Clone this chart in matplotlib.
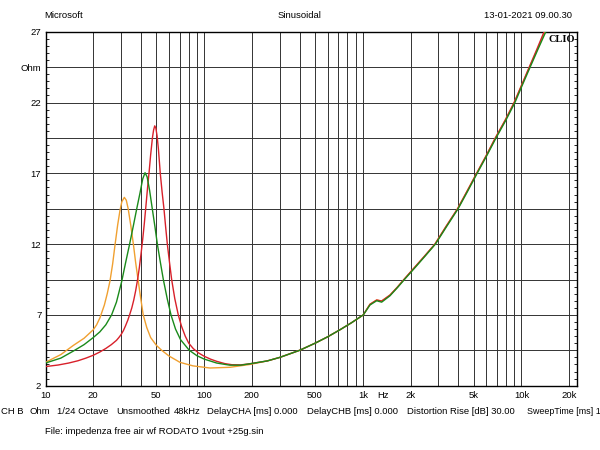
import matplotlib
matplotlib.use('Agg')
import matplotlib.pyplot as plt
from matplotlib.ticker import FixedLocator, FixedFormatter, NullFormatter

plt.rcParams['font.family'] = ['Liberation Sans', 'DejaVu Sans']
plt.rcParams['font.size'] = 6.8

# impedance curves (Hz, Ohm)
red_f = [10, 12, 14, 16, 18, 20, 22, 24, 26, 28, 29, 30, 31, 32, 33, 34, 35, 36, 37, 38, 39,
         40, 41, 42, 43, 44, 45, 46, 47.2, 48, 48.8, 49.6, 50.5, 51.5, 52.9, 54.3, 55.8,
         57.2, 58.6, 60.5, 62.4, 65.3, 68.7, 72, 76, 80, 85.4, 92, 100, 110, 120, 135, 150,
         170, 194.5, 250, 300, 400, 500, 600, 718, 850, 1007, 1110, 1223, 1315, 1484, 1650,
         1817, 2100, 2450, 2850, 3350, 3960, 4550, 5220, 6000, 6850, 7900, 9000, 10050,
         11200, 12500, 13900]
red_z = [3.35, 3.46, 3.6, 3.76, 3.95, 4.15, 4.38, 4.63, 4.9, 5.2, 5.4, 5.62, 5.9, 6.25,
         6.62, 7.05, 7.5, 8.05, 8.7, 9.45, 10.3, 11.3, 12.35, 13.5, 14.75, 16.0, 17.1, 18.3,
         19.5, 20.05, 20.35, 20.2, 19.65, 18.7, 17.0, 15.7, 14.5, 13.2, 12.0, 10.7, 9.5,
         8.15, 7.0, 6.2, 5.5, 5.0, 4.62, 4.32, 4.08, 3.87, 3.72, 3.56, 3.48, 3.47, 3.55,
         3.75, 4.0, 4.5, 5.0, 5.45, 5.95, 6.45, 7.0, 7.75, 8.05, 7.98, 8.4, 8.95, 9.5, 10.3,
         11.15, 12.0, 13.25, 14.5, 15.75, 17.0, 18.25, 19.5, 20.75, 22.0, 23.25, 24.5,
         25.75, 27.0]

green_f = [10, 12.5, 15, 17.5, 20, 22, 24, 26.1, 28, 30.2, 32, 33.9, 35.8, 37.6, 39.4, 41,
           42.4, 43.7, 45.3, 47.1, 49, 50.7, 53, 55.3, 58.5, 61.8, 66, 71, 80.6, 90, 100,
           120, 145, 170, 194.5, 250, 300, 400, 500, 600, 718, 850, 1007, 1110, 1223, 1315,
           1484, 1660, 1830, 2120, 2470, 2870, 3380, 3990, 4590, 5260, 6050, 6920, 7980,
           9100, 10150, 11350, 12700, 14250]
green_z = [3.6, 3.95, 4.45, 4.9, 5.4, 5.8, 6.3, 7.0, 7.9, 9.35, 10.7, 12.0, 13.3, 14.5,
           15.6, 16.6, 17.04, 16.75, 15.8, 14.5, 13.2, 12.0, 10.7, 9.5, 8.15, 7.0, 6.0, 5.25,
           4.5, 4.12, 3.88, 3.6, 3.45, 3.45, 3.55, 3.75, 4.0, 4.5, 5.0, 5.45, 5.95, 6.45,
           7.0, 7.7, 8.0, 7.9, 8.35, 8.95, 9.5, 10.3, 11.15, 12.0, 13.25, 14.5, 15.75, 17.0,
           18.25, 19.5, 20.75, 22.0, 23.25, 24.5, 25.75, 27.0]

orange_f = [10, 12.5, 15, 17.5, 20, 21, 22.05, 23.5, 24.5, 25.5, 26.5, 27.4, 28.5, 29.5,
            30.3, 31.4, 32.3, 33.2, 34.5, 35.8, 37, 38.3, 39.8, 41.3, 43.5, 46, 50, 54, 60,
            70.4, 85, 108.8, 145.5, 194.5, 250, 300, 400, 500, 600, 718, 850, 1007, 1110,
            1223, 1315, 1484, 1650, 1817, 2100, 2450, 2850, 3350, 3960, 4550, 5220, 6000,
            6850, 7900, 9000, 10050, 11250, 12600, 14050]
orange_z = [3.65, 4.2, 4.85, 5.35, 5.95, 6.3, 6.8, 7.7, 8.5, 9.4, 10.6, 11.9, 13.35, 14.4,
            15.0, 15.3, 15.1, 14.5, 13.3, 12.0, 10.7, 9.5, 8.2, 7.0, 6.1, 5.4, 4.85, 4.5,
            4.1, 3.65, 3.4, 3.25, 3.3, 3.5, 3.75, 4.0, 4.5, 5.0, 5.45, 5.95, 6.45, 7.0, 7.75,
            8.05, 7.98, 8.4, 8.95, 9.5, 10.3, 11.15, 12.0, 13.25, 14.5, 15.75, 17.0, 18.25,
            19.5, 20.75, 22.0, 23.25, 24.5, 25.75, 27.0]

x_major = [10, 20, 50, 100, 200, 500, 1000, 2000, 5000, 10000, 20000]
x_labels = ['10', '20', '50', '100', '200', '500', '1k', '2k', '5k', '10k', '20k']
y_major = [2, 4.5, 7, 9.5, 12, 14.5, 17, 19.5, 22, 24.5, 27]
y_labels = ['2', '', '7', '', '12', '', '17', '', '22', 'Ohm', '27']

info_items = [(1, 'CH B'), (30, 'Ohm'), (57, '1/24 Octave'), (116, 'Unsmoothed'),
              (174, '48kHz'), (207, 'DelayCHA [ms] 0.000'), (307, 'DelayCHB [ms] 0.000'),
              (407, 'Distortion Rise [dB] 30.00'), (527, 'SweepTime [ms] 164')]

fig = plt.figure(figsize=(6, 4.5), dpi=100)
ax = fig.add_axes([45.5 / 600, 1 - 385.7 / 450, 531.5 / 600, 354 / 450])
ax.set_xscale('log')
ax.set_xlim(10, 22400)
ax.set_ylim(2, 27)

minor_f = [d * m for d in (10, 100, 1000, 10000) for m in range(2, 10)
           if d * m not in x_major and d * m <= 20000]
ax.xaxis.set_major_locator(FixedLocator(x_major))
ax.xaxis.set_major_formatter(FixedFormatter(x_labels))
ax.xaxis.set_minor_locator(FixedLocator(minor_f))
ax.xaxis.set_minor_formatter(NullFormatter())
ax.yaxis.set_major_locator(FixedLocator(y_major))
ax.yaxis.set_major_formatter(FixedFormatter(y_labels))
ax.yaxis.set_minor_locator(FixedLocator([v / 2 for v in range(4, 55)]))

ax.grid(True, which='both', axis='x', color='#333333', lw=0.7)
ax.grid(True, which='major', axis='y', color='#333333', lw=0.7)
ax.tick_params(axis='x', which='both', length=0, pad=4, labelsize=6.8)
ax.tick_params(axis='y', which='major', length=0, pad=3, labelsize=6.8)
ax.tick_params(axis='y', which='minor', direction='in', length=2.2, width=0.6,
               left=True, right=True)
for s in ax.spines.values():
    s.set_linewidth(1.0)
    s.set_color('black')

ax.plot(orange_f, orange_z, color='#f0a030', lw=1.0, zorder=3)
ax.plot(red_f, red_z, color='#d8202a', lw=1.0, zorder=3)
ax.plot(green_f, green_z, color='#1a8a1a', lw=1.0, zorder=3)

ax.annotate('Hz', xy=(1350, 0), xycoords=('data', 'axes fraction'),
            xytext=(0, -4), textcoords='offset points', ha='center', va='top',
            fontsize=6.8)
ax.text(0.997, 0.99, 'CLIO', transform=ax.transAxes, ha='right', va='top',
        fontsize=7.5, fontweight='bold', family='Liberation Serif', zorder=5)

fig.text(44 / 600, 1 - 16 / 450, 'Microsoft', ha='left', va='center')
fig.text(300 / 600, 1 - 16 / 450, 'Sinusoidal', ha='center', va='center')
fig.text(572 / 600, 1 - 16 / 450, '13-01-2021 09.00.30', ha='right', va='center')
for x, s in info_items[:-1]:
    fig.text(x / 600, 1 - 412 / 450, s, ha='left', va='center')
fig.text(info_items[-1][0] / 600, 1 - 412 / 450, info_items[-1][1], ha='left',
         va='center', fontsize=6.4)
fig.text(45 / 600, 1 - 432 / 450, 'File: impedenza free air wf RODATO 1vout +25g.sin',
         ha='left', va='center')

fig.savefig('out.png', dpi=100, facecolor='white')
